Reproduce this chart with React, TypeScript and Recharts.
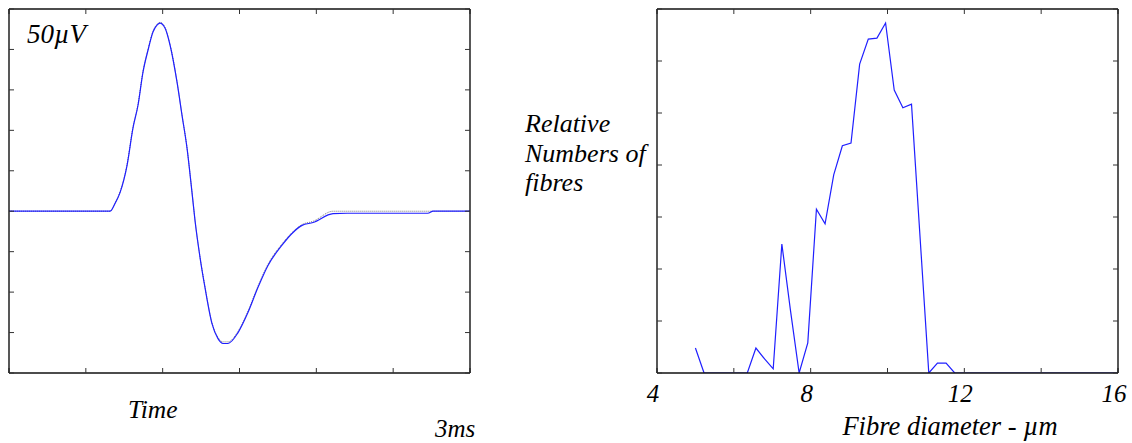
import React from 'react';
import { LineChart, Line, XAxis, YAxis } from 'recharts';

// ---- Left panel: compound action potential ----
const timeMs = [0, 1.315, 1.38, 1.445, 1.536, 1.614, 1.679, 1.744, 1.809, 1.874, 1.926, 1.965, 2.03, 2.096, 2.187, 2.252, 2.317, 2.382, 2.421, 2.486, 2.551, 2.642, 2.72, 2.785, 2.85, 2.981, 3.111, 3.241, 3.371, 3.553, 3.683, 3.814, 3.957, 4.217, 4.4, 5.45, 5.52, 6];
const recordedSignal = [0, 0, 0.19, 0.46, 1.13, 2.06, 2.62, 3.44, 3.98, 4.43, 4.6, 4.65, 4.53, 4.11, 3.19, 2.37, 1.56, 0.46, -0.23, -1.14, -1.89, -2.78, -3.15, -3.27, -3.27, -3.0, -2.5, -1.88, -1.34, -0.84, -0.55, -0.35, -0.28, -0.06, -0.05, -0.05, 0, 0];
const fittedSignal = [0, 0, 0.2, 0.48, 1.15, 2.08, 2.64, 3.46, 4.0, 4.45, 4.62, 4.67, 4.55, 4.12, 3.2, 2.38, 1.57, 0.47, -0.22, -1.13, -1.87, -2.76, -3.12, -3.23, -3.23, -2.97, -2.47, -1.85, -1.31, -0.81, -0.53, -0.33, -0.25, 0, 0, 0, 0, 0];
const timeTicks = [0, 1, 2, 3, 4, 5, 6];
const voltTicks = [-4, -3, -2, -1, 0, 1, 2, 3, 4, 5];

// ---- Right panel: fibre diameter distribution ----
const fibreDiameter = [5.0, 5.225, 5.45, 5.675, 5.9, 6.125, 6.35, 6.575, 6.8, 7.025, 7.25, 7.475, 7.7, 7.925, 8.15, 8.375, 8.6, 8.825, 9.05, 9.275, 9.5, 9.725, 9.95, 10.175, 10.4, 10.625, 11.075, 11.3, 11.525, 11.75, 16];
const fibreCount = [0.48, 0, 0, 0, 0, 0, 0, 0.48, 0.27, 0.08, 2.48, 1.2, 0, 0.58, 3.15, 2.87, 3.81, 4.37, 4.42, 5.94, 6.42, 6.44, 6.73, 5.44, 5.1, 5.17, 0, 0.19, 0.19, 0, 0];
const diamTicks = [4, 6, 8, 10, 12, 14, 16];
const diamLabels = [4, 8, 12, 16];
const countTicks = [0, 1, 2, 3, 4, 5, 6, 7];

const waveData = timeMs.map((t, i) => ({ t, rec: recordedSignal[i], fit: fittedSignal[i] }));
const histData = fibreDiameter.map((d, i) => ({ d, n: fibreCount[i] }));

const FONT = 'Liberation Serif';
const BOX = { stroke: '#111', strokeWidth: 1.4 };
const TICK = { stroke: '#333', strokeWidth: 1 };
const BLUE = '#1f1fff';

const NoLabel = () => <g />;

const DiamTick = (props: any) => {
  const { x, y, payload } = props;
  return (
    <text x={x - 4} y={y + 29} textAnchor="middle" style={{ fontFamily: FONT, fontStyle: 'italic', fontSize: 25 }} fill="#000">
      {payload.value}
    </text>
  );
};

const Txt = (p: { x: number; y: number; size: number; anchor?: string; children: React.ReactNode }) => (
  <text x={p.x} y={p.y} textAnchor={p.anchor || 'start'} fill="#000" style={{ fontFamily: FONT, fontStyle: 'italic', fontSize: p.size }}>
    {p.children}
  </text>
);

const LeftTexts = () => (
  <g>
    <Txt x={27} y={43} size={27}>50µV</Txt>
    <Txt x={128} y={418} size={25.5}>Time</Txt>
    <Txt x={435} y={437} size={25}>3ms</Txt>
  </g>
);

// Right chart svg starts at x = 500
const RightTexts = () => (
  <g>
    <Txt x={25} y={132} size={26}>Relative</Txt>
    <Txt x={25} y={161.5} size={26}>Numbers of</Txt>
    <Txt x={25} y={191} size={26}>fibres</Txt>
    <Txt x={450} y={435} size={26.5} anchor="middle">Fibre diameter - µm</Txt>
  </g>
);

export default function App() {
  return (
    <div style={{ position: 'absolute', left: 0, top: 0, width: 1132, height: 443, background: '#fff', overflow: 'hidden' }}>
      <div style={{ position: 'absolute', left: 0, top: 0 }}>
        <LineChart width={498} height={443} data={waveData} margin={{ top: 9, right: 28, bottom: 70, left: 9 }}>
          <XAxis xAxisId="b" dataKey="t" type="number" domain={[0, 6]} ticks={timeTicks} allowDataOverflow orientation="bottom" mirror height={1} tick={NoLabel} tickSize={5} axisLine={BOX} tickLine={TICK} label={{ content: LeftTexts }} />
          <XAxis xAxisId="t" dataKey="t" type="number" domain={[0, 6]} ticks={timeTicks} allowDataOverflow orientation="top" mirror height={1} tick={NoLabel} tickSize={5} axisLine={BOX} tickLine={TICK} />
          <YAxis yAxisId="l" type="number" domain={[-4, 5]} ticks={voltTicks} allowDataOverflow orientation="left" mirror width={1} tick={NoLabel} tickSize={5} axisLine={BOX} tickLine={TICK} />
          <YAxis yAxisId="r" type="number" domain={[-4, 5]} ticks={voltTicks} allowDataOverflow orientation="right" mirror width={1} tick={NoLabel} tickSize={5} axisLine={BOX} tickLine={TICK} />
          <Line xAxisId="b" yAxisId="l" dataKey="fit" type="monotone" stroke="#777" strokeWidth={1} strokeDasharray="1 1" dot={false} isAnimationActive={false} />
          <Line xAxisId="b" yAxisId="l" dataKey="rec" type="monotone" stroke={BLUE} strokeWidth={1.2} dot={false} isAnimationActive={false} />
        </LineChart>
      </div>
      <div style={{ position: 'absolute', left: 500, top: 0 }}>
        <LineChart width={632} height={443} data={histData} margin={{ top: 9, right: 14, bottom: 69, left: 157 }}>
          <XAxis xAxisId="b" dataKey="d" type="number" domain={[4, 16]} ticks={diamTicks} allowDataOverflow orientation="bottom" mirror height={1} tick={NoLabel} tickSize={5} axisLine={BOX} tickLine={TICK} label={{ content: RightTexts }} />
          <XAxis xAxisId="lab" dataKey="d" type="number" domain={[4, 16]} ticks={diamLabels} allowDataOverflow orientation="bottom" height={1} tick={DiamTick} tickSize={0} tickMargin={0} axisLine={false} tickLine={false} />
          <XAxis xAxisId="t" dataKey="d" type="number" domain={[4, 16]} ticks={diamTicks} allowDataOverflow orientation="top" mirror height={1} tick={NoLabel} tickSize={5} axisLine={BOX} tickLine={TICK} />
          <YAxis yAxisId="l" type="number" domain={[0, 7]} ticks={countTicks} allowDataOverflow orientation="left" mirror width={1} tick={NoLabel} tickSize={5} axisLine={BOX} tickLine={TICK} />
          <YAxis yAxisId="r" type="number" domain={[0, 7]} ticks={countTicks} allowDataOverflow orientation="right" mirror width={1} tick={NoLabel} tickSize={5} axisLine={BOX} tickLine={TICK} />
          <Line xAxisId="b" yAxisId="l" dataKey="n" type="linear" stroke={BLUE} strokeWidth={1.2} dot={false} isAnimationActive={false} />
        </LineChart>
      </div>
    </div>
  );
}
